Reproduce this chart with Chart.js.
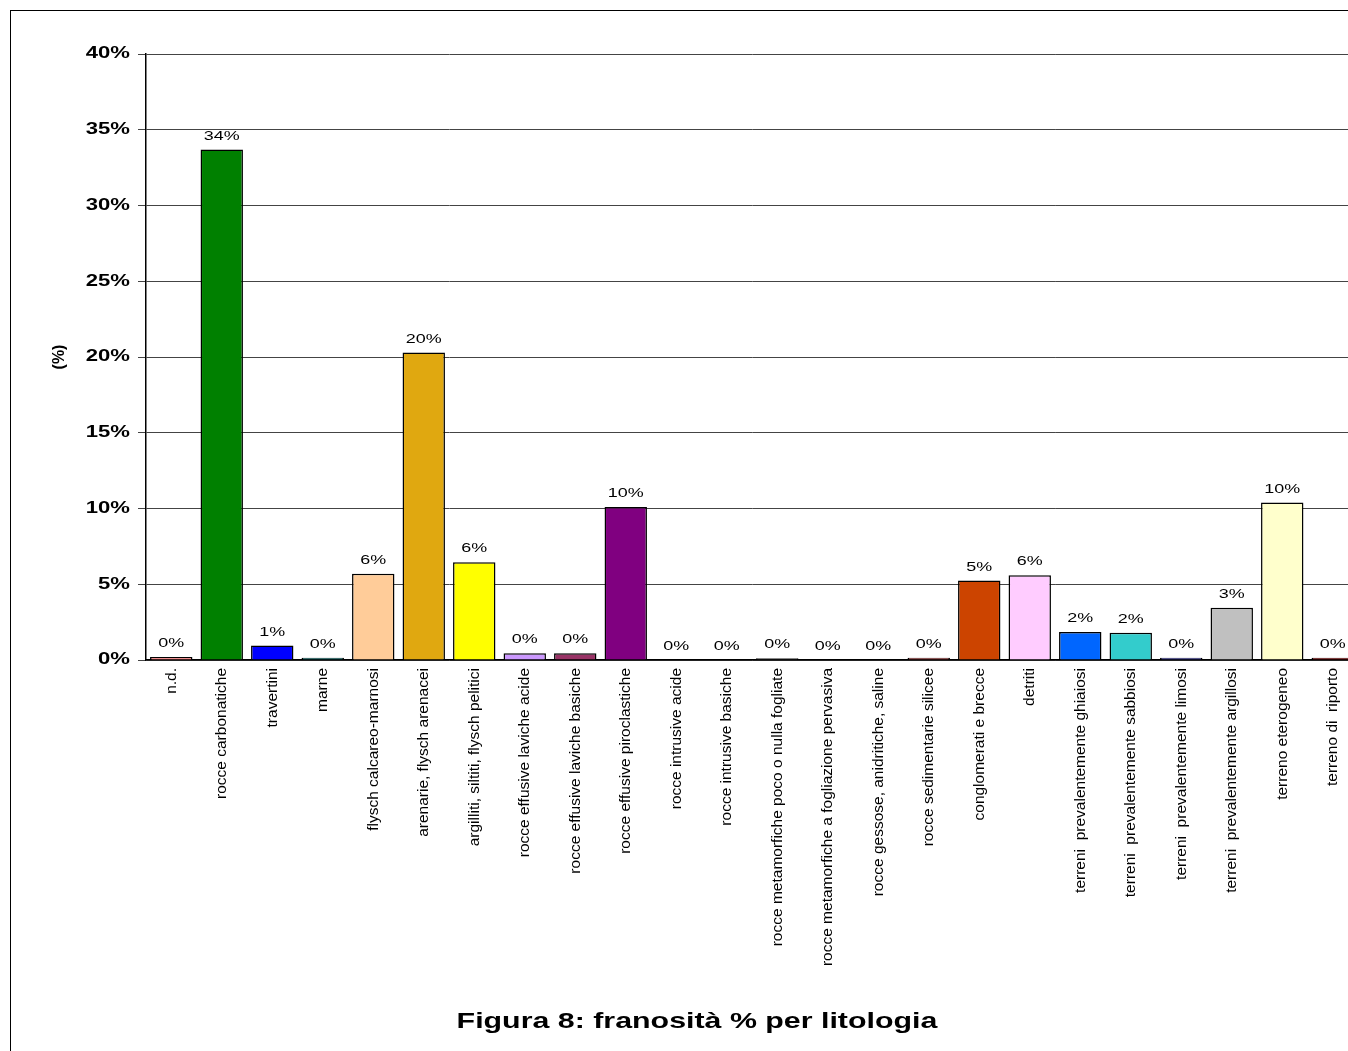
<!DOCTYPE html>
<html>
<head>
<meta charset="utf-8">
<script src="https://cdn.jsdelivr.net/npm/chart.js@4.4.0/dist/chart.umd.min.js"></script>
<style>
    html, body { margin: 0; padding: 0; width: 1348px; height: 1051px; overflow: hidden; background: #fff; }
    .frame { position: absolute; left: 10px; top: 10px; width: 1400px; height: 1100px; border: 1px solid #000; }
    .wrap { position: absolute; left: 0; top: 0; width: 1370px; height: 1051px; }
    .caption { position: absolute; left: 0; width: 1394px; top: 1008px; text-align: center;
        font: bold 22px Arial, "Liberation Sans", sans-serif; color: #000;
        transform: scaleX(1.38); transform-origin: 697px 0; }
</style>
</head>
<body>
<div class="frame"></div>
<div class="wrap"><canvas id="litoChart"></canvas></div>
<div class="caption">Figura 8: franosità % per litologia</div>
<script>
const categories = [
    'n.d.', 'rocce carbonatiche', 'travertini', 'marne', 'flysch calcareo-marnosi',
    'arenarie, flysch arenacei', 'argilliti, siltiti, flysch pelitici',
    'rocce effusive laviche acide', 'rocce effusive laviche basiche',
    'rocce effusive piroclastiche', 'rocce intrusive acide', 'rocce intrusive basiche',
    'rocce metamorfiche poco o nulla fogliate', 'rocce metamorfiche a fogliazione pervasiva',
    'rocce gessose, anidritiche, saline', 'rocce sedimentarie silicee',
    'conglomerati e brecce', 'detriti', 'terreni  prevalentemente ghiaiosi',
    'terreni  prevalentemente sabbiosi', 'terreni  prevalentemente limosi',
    'terreni  prevalentemente argillosi', 'terreno eterogeneo', 'terreno di  riporto'
];
const franosita = [
    0.2, 33.7, 0.95, 0.15, 5.7, 20.3, 6.45, 0.45, 0.45, 10.1, 0, 0,
    0.12, 0, 0, 0.15, 5.25, 5.6, 1.85, 1.8, 0.15, 3.45, 10.4, 0.15
];
const barColors = [
    '#FF8080', '#008000', '#0000FF', '#006060', '#FFCC99', '#E0A810', '#FFFF00',
    '#CC99FF', '#993366', '#800080', '#FFFFFF', '#FFFFFF', '#333333', '#FFFFFF',
    '#FFFFFF', '#993333', '#CC4400', '#FFCCFF', '#0066FF', '#33CCCC', '#333399',
    '#C0C0C0', '#FFFFCC', '#800000'
];
const yTicks = [0, 5, 10, 15, 20, 25, 30, 35, 40];

const FONT = 'Arial, "Liberation Sans", sans-serif';
const STRETCH = 1.38;   // the original text looks widened horizontally

// draws the "xx%" labels above each bar
const valueLabels = {
    id: 'valueLabels',
    afterLayout(chart) {
        // widen the y tick labels around their right edge
        const s = chart.scales.y;
        if (s._wide) return;
        const orig = s.drawLabels;
        s.drawLabels = function (area) {
            const c = this.ctx;
            const ax = this.right - 16;
            c.save();
            c.translate(ax, 0);
            c.scale(STRETCH, 1);
            c.translate(-ax, 0);
            orig.call(this, area);
            c.restore();
        };
        s._wide = true;
    },
    afterDatasetsDraw(chart) {
        const ctx = chart.ctx;
        const meta = chart.getDatasetMeta(0);
        ctx.save();
        ctx.font = '13px ' + FONT;
        ctx.fillStyle = '#000';
        ctx.textAlign = 'center';
        ctx.textBaseline = 'bottom';
        meta.data.forEach((bar, i) => {
            ctx.save();
            ctx.translate(bar.x, bar.y - 7);
            ctx.scale(STRETCH, 1);
            ctx.fillText(Math.round(franosita[i]) + '%', 0, 0);
            ctx.restore();
        });
        ctx.restore();
    }
};

const ctx = document.getElementById('litoChart').getContext('2d');
new Chart(ctx, {
    type: 'bar',
    data: {
        labels: categories,
        datasets: [{
            data: franosita,
            backgroundColor: barColors,
            borderColor: '#000',
            borderWidth: franosita.map(v => v > 0 ? 1.5 : 0),
            barPercentage: 0.84,
            categoryPercentage: 1.0
        }]
    },
    plugins: [valueLabels],
    options: {
        responsive: true,
        maintainAspectRatio: false,
        animation: false,
        layout: { padding: { top: 54, right: 12, left: 0, bottom: 0 } },
        plugins: {
            legend: { display: false },
            tooltip: { enabled: false }
        },
        scales: {
            y: {
                min: 0,
                max: 40,
                afterFit(scale) { scale.width = 146; },
                afterBuildTicks(scale) { scale.ticks = yTicks.map(v => ({ value: v })); },
                ticks: {
                    color: '#000',
                    font: { family: FONT, size: 16, weight: 'bold' },
                    padding: 8,
                    callback: v => v + '%'
                },
                grid: { color: '#444', lineWidth: 1, tickLength: 8, drawTicks: true },
                border: { color: '#000', width: 1.5 },
                title: {
                    display: true,
                    text: '(%)',
                    color: '#000',
                    font: { family: FONT, size: 16, weight: 'bold' },
                    padding: { top: 50 }
                }
            },
            x: {
                afterFit(scale) { scale.height = 391; },
                ticks: {
                    color: '#000',
                    font: { family: FONT, size: 15.5 },
                    minRotation: 90,
                    maxRotation: 90,
                    autoSkip: false,
                    padding: 0
                },
                grid: { display: false },
                border: { color: '#000', width: 1.5 }
            }
        }
    }
});
</script>
</body>
</html>
